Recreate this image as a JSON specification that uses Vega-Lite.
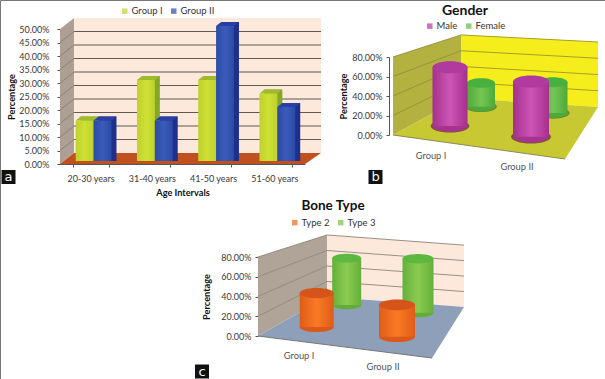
{"$schema":"https://vega.github.io/schema/vega-lite/v6.json","width":605,"height":379,"padding":0,"autosize":{"type":"none"},"background":"white","view":{"stroke":"#777","strokeWidth":1,"fill":"white"},"config":{"font":"Lato","axis":{"labelFont":"Lato","titleFont":"Lato","labelFontSize":9,"labelColor":"#3a3a3a","titleFontSize":9.2,"titleFontWeight":"bold","titleColor":"#111","tickColor":"#555","domainColor":"#555","grid":false,"zindex":1},"legend":{"labelFont":"Lato","labelFontSize":9.5,"labelColor":"#333","symbolType":"square","symbolSize":30,"symbolStrokeWidth":0,"padding":0,"labelOffset":2}},"datasets":{"age":[{"age":"20-30 years","series":"Group I","value":0.15},{"age":"31-40 years","series":"Group I","value":0.3},{"age":"41-50 years","series":"Group I","value":0.3},{"age":"51-60 years","series":"Group I","value":0.25},{"age":"20-30 years","series":"Group II","value":0.15},{"age":"31-40 years","series":"Group II","value":0.15},{"age":"41-50 years","series":"Group II","value":0.5},{"age":"51-60 years","series":"Group II","value":0.2}],"gender":[{"group":"Group I","series":"Male","value":0.66},{"group":"Group I","series":"Female","value":0.34},{"group":"Group II","series":"Male","value":0.6},{"group":"Group II","series":"Female","value":0.4}],"bone":[{"group":"Group I","series":"Type 2","value":0.35},{"group":"Group I","series":"Type 3","value":0.65},{"group":"Group II","series":"Type 2","value":0.35},{"group":"Group II","series":"Type 3","value":0.65}],"panels":[{"panel":"a"},{"panel":"b"},{"panel":"c"}]},"layer":[
{"encoding":{"y":{"field":"low","type":"quantitative","axis":null,"scale":{"domain":[0,0.5],"range":[164,29]}},"x":{"field":"u","type":"quantitative","axis":null,"scale":{"domain":[0,1],"range":[60,321]}}},"layer":[
{"data":{"values":[{"u":0,"low":0,"high":0.5},{"u":0.054,"low":0.0407,"high":0.5407}]},"mark":{"type":"area","fill":"#ad9f94","orient":"vertical"},"encoding":{"y2":{"field":"high"}}},
{"data":{"values":[{"u":0.054,"low":0.0407,"high":0.5407},{"u":1,"low":0.0407,"high":0.5407}]},"mark":{"type":"area","fill":"#fde9dc","orient":"vertical"},"encoding":{"y2":{"field":"high"}}},
{"data":{"values":[{"u":0,"low":0,"high":0},{"u":0.054,"low":0,"high":0.0407},{"u":0.939,"low":0,"high":0.0407},{"u":1,"low":0.0407,"high":0.0407}]},"mark":{"type":"area","fill":"#c0501f","orient":"vertical"},"encoding":{"y2":{"field":"high"}}},
{"data":{"values":[{"level":5,"u":0,"low":0.05},{"level":5,"u":0.054,"low":0.0907},{"level":10,"u":0,"low":0.1},{"level":10,"u":0.054,"low":0.1407},{"level":15,"u":0,"low":0.15},{"level":15,"u":0.054,"low":0.1907},{"level":20,"u":0,"low":0.2},{"level":20,"u":0.054,"low":0.2407},{"level":25,"u":0,"low":0.25},{"level":25,"u":0.054,"low":0.2907},{"level":30,"u":0,"low":0.3},{"level":30,"u":0.054,"low":0.3407},{"level":35,"u":0,"low":0.35},{"level":35,"u":0.054,"low":0.3907},{"level":40,"u":0,"low":0.4},{"level":40,"u":0.054,"low":0.4407},{"level":45,"u":0,"low":0.45},{"level":45,"u":0.054,"low":0.4907}]},"mark":{"type":"line","stroke":"#8d8278","strokeWidth":1},"encoding":{"detail":{"field":"level"}}},
{"data":{"values":[{"level":5,"u":0.054,"low":0.0907},{"level":5,"u":1,"low":0.0907},{"level":10,"u":0.054,"low":0.1407},{"level":10,"u":1,"low":0.1407},{"level":15,"u":0.054,"low":0.1907},{"level":15,"u":1,"low":0.1907},{"level":20,"u":0.054,"low":0.2407},{"level":20,"u":1,"low":0.2407},{"level":25,"u":0.054,"low":0.2907},{"level":25,"u":1,"low":0.2907},{"level":30,"u":0.054,"low":0.3407},{"level":30,"u":1,"low":0.3407},{"level":35,"u":0.054,"low":0.3907},{"level":35,"u":1,"low":0.3907},{"level":40,"u":0.054,"low":0.4407},{"level":40,"u":1,"low":0.4407},{"level":45,"u":0.054,"low":0.4907},{"level":45,"u":1,"low":0.4907}]},"mark":{"type":"line","stroke":"#5d5852","strokeWidth":1},"encoding":{"detail":{"field":"level"}}}]},
{"data":{"name":"age"},"transform":[{"filter":"datum.series==='Group I'"}],"encoding":{"x":{"field":"age","type":"nominal","axis":null,"scale":{"type":"band","domain":["20-30 years","31-40 years","41-50 years","51-60 years"],"range":[54.03,299.03],"paddingInner":0.708,"paddingOuter":0.354}},"y":{"field":"value","type":"quantitative","axis":null,"stack":null,"scale":{"domain":[0,0.5],"range":[161,26]}}},"layer":[
{"mark":{"type":"bar","fill":"#84a62b","xOffset":5,"yOffset":-4}},
{"mark":{"type":"point","shape":"M-1,0L1,0L1.56,-0.45L-0.44,-0.45Z","size":320,"filled":true,"fill":"#84a62b","opacity":1,"strokeWidth":0},"encoding":{"y":{"datum":0,"type":"quantitative","axis":null}}},
{"mark":{"type":"point","shape":"M-1,0L1,0L1.56,-0.45L-0.44,-0.45Z","size":320,"filled":true,"fill":"#9dbb2c","opacity":1,"strokeWidth":0}},
{"mark":{"type":"bar","fill":{"gradient":"linear","x1":0,"x2":1,"y1":0,"y2":0,"stops":[{"offset":0,"color":"#bed22c"},{"offset":0.5,"color":"#cfe035"},{"offset":1,"color":"#bed22c"}]}}}]},
{"data":{"name":"age"},"transform":[{"filter":"datum.series==='Group II'"}],"encoding":{"x":{"field":"age","type":"nominal","axis":null,"scale":{"type":"band","domain":["20-30 years","31-40 years","41-50 years","51-60 years"],"range":[71.91,316.91],"paddingInner":0.708,"paddingOuter":0.354}},"y":{"field":"value","type":"quantitative","axis":null,"stack":null,"scale":{"domain":[0,0.5],"range":[161,26]}}},"layer":[
{"mark":{"type":"bar","fill":"#1e2f8c","xOffset":5,"yOffset":-4}},
{"mark":{"type":"point","shape":"M-1,0L1,0L1.56,-0.45L-0.44,-0.45Z","size":320,"filled":true,"fill":"#1e2f8c","opacity":1,"strokeWidth":0},"encoding":{"y":{"datum":0,"type":"quantitative","axis":null}}},
{"mark":{"type":"point","shape":"M-1,0L1,0L1.56,-0.45L-0.44,-0.45Z","size":320,"filled":true,"fill":"#2a3fa6","opacity":1,"strokeWidth":0}},
{"mark":{"type":"bar","fill":{"gradient":"linear","x1":0,"x2":1,"y1":0,"y2":0,"stops":[{"offset":0,"color":"#2b4aa6"},{"offset":0.5,"color":"#3a5cb8"},{"offset":1,"color":"#2b4aa6"}]}}}]},
{"data":{"name":"age"},"mark":{"type":"point","size":0,"filled":true},"encoding":{"x":{"field":"age","type":"nominal","title":"Age Intervals","scale":{"type":"band","domain":["20-30 years","31-40 years","41-50 years","51-60 years"],"range":[60,305],"paddingInner":0.416,"paddingOuter":0.208},"axis":{"orient":"bottom","offset":-215,"labelAngle":0,"tickBand":"extent","tickSize":3,"labelPadding":7,"titlePadding":5,"labelFontSize":9}},"y":{"field":"value","type":"quantitative","title":"Percentage","scale":{"domain":[0,0.5],"range":[164,29]},"axis":{"orient":"left","offset":-60,"values":[0,0.05,0.1,0.15,0.2,0.25,0.3,0.35,0.4,0.45,0.5],"format":".2%","tickSize":3,"labelPadding":8,"titlePadding":2}},"color":{"field":"series","type":"nominal","title":null,"scale":{"domain":["Group I","Group II"],"range":["#bed22c","#2b4aa6"]},"legend":{"orient":"none","legendX":120,"legendY":6,"direction":"horizontal","columns":2,"columnPadding":6}}}},

{"encoding":{"y":{"field":"low","type":"quantitative","axis":null,"scale":{"domain":[0,0.8],"range":[135,57]}},"x":{"field":"u","type":"quantitative","axis":null,"scale":{"domain":[0,1],"range":[393,598]}}},"layer":[
{"data":{"values":[{"u":0,"low":0,"high":0.8},{"u":0.332,"low":0.379,"high":1.026}]},"mark":{"type":"area","fill":"#b3b13f","orient":"vertical"},"encoding":{"y2":{"field":"high"}}},
{"data":{"values":[{"u":0.332,"low":0.379,"high":1.026},{"u":1,"low":0.287,"high":0.954}]},"mark":{"type":"area","fill":"#f6ee1c","orient":"vertical"},"encoding":{"y2":{"field":"high"}}},
{"data":{"values":[{"u":0,"low":0,"high":0},{"u":0.332,"low":-0.097,"high":0.379},{"u":0.839,"low":-0.246,"high":0.309},{"u":1,"low":0.287,"high":0.287}]},"mark":{"type":"area","fill":"#c8c832","orient":"vertical"},"encoding":{"y2":{"field":"high"}}},
{"data":{"values":[{"level":20,"u":0,"low":0.2},{"level":20,"u":0.332,"low":0.541},{"level":40,"u":0,"low":0.4},{"level":40,"u":0.332,"low":0.703},{"level":60,"u":0,"low":0.6},{"level":60,"u":0.332,"low":0.864},{"level":80,"u":0,"low":0.8},{"level":80,"u":0.332,"low":1.026}]},"mark":{"type":"line","stroke":"#96953a","strokeWidth":1},"encoding":{"detail":{"field":"level"}}},
{"data":{"values":[{"level":20,"u":0.332,"low":0.541},{"level":20,"u":1,"low":0.454},{"level":40,"u":0.332,"low":0.703},{"level":40,"u":1,"low":0.62},{"level":60,"u":0.332,"low":0.864},{"level":60,"u":1,"low":0.787},{"level":80,"u":0.332,"low":1.026},{"level":80,"u":1,"low":0.954}]},"mark":{"type":"line","stroke":"#a6a024","strokeWidth":1},"encoding":{"detail":{"field":"level"}}},
{"data":{"values":[{"u":0,"low":0},{"u":0.839,"low":-0.246}]},"mark":{"type":"line","stroke":"#8a8a55","strokeWidth":1}}]},

{"data":{"name":"gender"},"transform":[{"filter":"datum.group==='Group I'&&datum.series==='Female'"}],"encoding":{"x":{"field":"group","type":"nominal","axis":null,"scale":{"type":"point","domain":["Group I"],"range":[481,481]}},"y":{"field":"value","type":"quantitative","axis":null,"stack":null,"scale":{"domain":[0,1],"range":[106.7,36.7]}}},"layer":[
{"mark":{"type":"point","shape":"M-1,0A1,0.34 0 1,1 1,0A1,0.34 0 1,1 -1,0Z","size":1000,"filled":true,"fill":"#6a8a2a","opacity":1,"strokeWidth":0},"encoding":{"y":{"datum":0,"type":"quantitative","axis":null}}},
{"mark":{"type":"point","shape":"M-1,0A1,0.34 0 1,1 1,0A1,0.34 0 1,1 -1,0Z","size":784,"filled":true,"fill":"#4ea83a","opacity":1,"strokeWidth":0},"encoding":{"y":{"datum":0,"type":"quantitative","axis":null}}},
{"mark":{"type":"bar","width":28,"fill":{"gradient":"linear","x1":0,"x2":1,"y1":0,"y2":0,"stops":[{"offset":0,"color":"#52a83b"},{"offset":0.5,"color":"#74c653"},{"offset":1,"color":"#4ea83a"}]}}},
{"mark":{"type":"point","shape":"M-1,0A1,0.34 0 1,1 1,0A1,0.34 0 1,1 -1,0Z","size":784,"filled":true,"fill":"#48b03e","opacity":1,"strokeWidth":0}}]},
{"data":{"name":"gender"},"transform":[{"filter":"datum.group==='Group II'&&datum.series==='Female'"}],"encoding":{"x":{"field":"group","type":"nominal","axis":null,"scale":{"type":"point","domain":["Group II"],"range":[553,553]}},"y":{"field":"value","type":"quantitative","axis":null,"stack":null,"scale":{"domain":[0,1],"range":[113,36]}}},"layer":[
{"mark":{"type":"point","shape":"M-1,0A1,0.34 0 1,1 1,0A1,0.34 0 1,1 -1,0Z","size":1100,"filled":true,"fill":"#6a8a2a","opacity":1,"strokeWidth":0},"encoding":{"y":{"datum":0,"type":"quantitative","axis":null}}},
{"mark":{"type":"point","shape":"M-1,0A1,0.34 0 1,1 1,0A1,0.34 0 1,1 -1,0Z","size":841,"filled":true,"fill":"#4ea83a","opacity":1,"strokeWidth":0},"encoding":{"y":{"datum":0,"type":"quantitative","axis":null}}},
{"mark":{"type":"bar","width":29,"fill":{"gradient":"linear","x1":0,"x2":1,"y1":0,"y2":0,"stops":[{"offset":0,"color":"#52a83b"},{"offset":0.5,"color":"#74c653"},{"offset":1,"color":"#4ea83a"}]}}},
{"mark":{"type":"point","shape":"M-1,0A1,0.34 0 1,1 1,0A1,0.34 0 1,1 -1,0Z","size":841,"filled":true,"fill":"#48b03e","opacity":1,"strokeWidth":0}}]},
{"data":{"name":"gender"},"transform":[{"filter":"datum.group==='Group I'&&datum.series==='Male'"}],"encoding":{"x":{"field":"group","type":"nominal","axis":null,"scale":{"type":"point","domain":["Group I"],"range":[450,450]}},"y":{"field":"value","type":"quantitative","axis":null,"stack":null,"scale":{"domain":[0,1],"range":[126,37]}}},"layer":[
{"mark":{"type":"point","shape":"M-1,0A1,0.34 0 1,1 1,0A1,0.34 0 1,1 -1,0Z","size":1500,"filled":true,"fill":"#7a5a2a","opacity":1,"strokeWidth":0},"encoding":{"y":{"datum":0,"type":"quantitative","axis":null}}},
{"mark":{"type":"point","shape":"M-1,0A1,0.34 0 1,1 1,0A1,0.34 0 1,1 -1,0Z","size":1225,"filled":true,"fill":"#a8338f","opacity":1,"strokeWidth":0},"encoding":{"y":{"datum":0,"type":"quantitative","axis":null}}},
{"mark":{"type":"bar","width":35,"fill":{"gradient":"linear","x1":0,"x2":1,"y1":0,"y2":0,"stops":[{"offset":0,"color":"#a5318c"},{"offset":0.5,"color":"#cc55b6"},{"offset":1,"color":"#a5318c"}]}}},
{"mark":{"type":"point","shape":"M-1,0A1,0.34 0 1,1 1,0A1,0.34 0 1,1 -1,0Z","size":1225,"filled":true,"fill":"#b03a9d","opacity":1,"strokeWidth":0}}]},
{"data":{"name":"gender"},"transform":[{"filter":"datum.group==='Group II'&&datum.series==='Male'"}],"encoding":{"x":{"field":"group","type":"nominal","axis":null,"scale":{"type":"point","domain":["Group II"],"range":[531,531]}},"y":{"field":"value","type":"quantitative","axis":null,"stack":null,"scale":{"domain":[0,1],"range":[136.7,44.7]}}},"layer":[
{"mark":{"type":"point","shape":"M-1,0A1,0.34 0 1,1 1,0A1,0.34 0 1,1 -1,0Z","size":1600,"filled":true,"fill":"#7a5a2a","opacity":1,"strokeWidth":0},"encoding":{"y":{"datum":0,"type":"quantitative","axis":null}}},
{"mark":{"type":"point","shape":"M-1,0A1,0.34 0 1,1 1,0A1,0.34 0 1,1 -1,0Z","size":1296,"filled":true,"fill":"#a8338f","opacity":1,"strokeWidth":0},"encoding":{"y":{"datum":0,"type":"quantitative","axis":null}}},
{"mark":{"type":"bar","width":36,"fill":{"gradient":"linear","x1":0,"x2":1,"y1":0,"y2":0,"stops":[{"offset":0,"color":"#a5318c"},{"offset":0.5,"color":"#cc55b6"},{"offset":1,"color":"#a5318c"}]}}},
{"mark":{"type":"point","shape":"M-1,0A1,0.34 0 1,1 1,0A1,0.34 0 1,1 -1,0Z","size":1296,"filled":true,"fill":"#b03a9d","opacity":1,"strokeWidth":0}}]},
{"data":{"values":[{"group":"Group I"},{"group":"Group II"}]},"mark":{"type":"text","fontSize":9.3,"color":"#555","font":"Lato"},"encoding":{"text":{"field":"group"},"x":{"field":"group","type":"nominal","axis":null,"scale":{"type":"point","padding":0,"domain":["Group I","Group II"],"range":[431,517]}},"y":{"field":"group","type":"nominal","axis":null,"scale":{"type":"point","padding":0,"domain":["Group I","Group II"],"range":[156,167]}}}},
{"data":{"name":"gender"},"mark":{"type":"point","size":0,"filled":true},"encoding":{"y":{"field":"value","type":"quantitative","title":"Percentage","scale":{"domain":[0,0.8],"range":[135,57]},"axis":{"orient":"left","offset":-389,"values":[0,0.2,0.4,0.6,0.8],"format":".2%","tickSize":3,"labelPadding":4,"titlePadding":3}},"color":{"field":"series","type":"nominal","title":"Gender","scale":{"domain":["Male","Female"],"range":["#b83aa0","#66bb44"]},"legend":{"orient":"none","legendX":425,"legendY":4,"direction":"horizontal","columns":2,"columnPadding":6,"titleFontSize":14,"titleFont":"Lato","titleFontWeight":"bold","titleColor":"#111","titleAnchor":"middle","titlePadding":3}}}},

{"encoding":{"y":{"field":"low","type":"quantitative","axis":null,"scale":{"domain":[0,0.8],"range":[336,257]}},"x":{"field":"u","type":"quantitative","axis":null,"scale":{"domain":[0,1],"range":[258,464]}}},"layer":[
{"data":{"values":[{"u":0,"low":0,"high":0.8},{"u":0.335,"low":0.395,"high":1.023}]},"mark":{"type":"area","fill":"#b0a498","orient":"vertical"},"encoding":{"y2":{"field":"high"}}},
{"data":{"values":[{"u":0.335,"low":0.395,"high":1.023},{"u":1,"low":0.294,"high":0.92}]},"mark":{"type":"area","fill":"#fce9dc","orient":"vertical"},"encoding":{"y2":{"field":"high"}}},
{"data":{"values":[{"u":0,"low":0,"high":0},{"u":0.335,"low":-0.088,"high":0.395},{"u":0.845,"low":-0.223,"high":0.318},{"u":1,"low":0.294,"high":0.294}]},"mark":{"type":"area","fill":"#8d9fb9","orient":"vertical"},"encoding":{"y2":{"field":"high"}}},
{"data":{"values":[{"level":20,"u":0,"low":0.2},{"level":20,"u":0.335,"low":0.552},{"level":40,"u":0,"low":0.4},{"level":40,"u":0.335,"low":0.709},{"level":60,"u":0,"low":0.6},{"level":60,"u":0.335,"low":0.866},{"level":80,"u":0,"low":0.8},{"level":80,"u":0.335,"low":1.023}]},"mark":{"type":"line","stroke":"#978b80","strokeWidth":1},"encoding":{"detail":{"field":"level"}}},
{"data":{"values":[{"level":20,"u":0.335,"low":0.552},{"level":20,"u":1,"low":0.4505},{"level":40,"u":0.335,"low":0.709},{"level":40,"u":1,"low":0.607},{"level":60,"u":0.335,"low":0.866},{"level":60,"u":1,"low":0.7635},{"level":80,"u":0.335,"low":1.023},{"level":80,"u":1,"low":0.92}]},"mark":{"type":"line","stroke":"#9a8f86","strokeWidth":1},"encoding":{"detail":{"field":"level"}}},
{"data":{"values":[{"u":0,"low":0},{"u":0.845,"low":-0.223}]},"mark":{"type":"line","stroke":"#777","strokeWidth":1}}]},

{"data":{"name":"bone"},"transform":[{"filter":"datum.group==='Group I'&&datum.series==='Type 3'"}],"encoding":{"x":{"field":"group","type":"nominal","axis":null,"scale":{"type":"point","domain":["Group I"],"range":[346.7,346.7]}},"y":{"field":"value","type":"quantitative","axis":null,"stack":null,"scale":{"domain":[0,1],"range":[305,233]}}},"layer":[
{"mark":{"type":"point","shape":"M-1,0A1,0.3 0 1,1 1,0A1,0.3 0 1,1 -1,0Z","size":841,"filled":true,"fill":"#62ad3a","opacity":1,"strokeWidth":0},"encoding":{"y":{"datum":0,"type":"quantitative","axis":null}}},
{"mark":{"type":"bar","width":29,"fill":{"gradient":"linear","x1":0,"x2":1,"y1":0,"y2":0,"stops":[{"offset":0,"color":"#64b03c"},{"offset":0.5,"color":"#8ccb50"},{"offset":1,"color":"#64b03c"}]}}},
{"mark":{"type":"point","shape":"M-1,0A1,0.3 0 1,1 1,0A1,0.3 0 1,1 -1,0Z","size":841,"filled":true,"fill":"#5db83f","opacity":1,"strokeWidth":0}}]},
{"data":{"name":"bone"},"transform":[{"filter":"datum.group==='Group II'&&datum.series==='Type 3'"}],"encoding":{"x":{"field":"group","type":"nominal","axis":null,"scale":{"type":"point","domain":["Group II"],"range":[418,418]}},"y":{"field":"value","type":"quantitative","axis":null,"stack":null,"scale":{"domain":[0,1],"range":[312.7,229.7]}}},"layer":[
{"mark":{"type":"point","shape":"M-1,0A1,0.3 0 1,1 1,0A1,0.3 0 1,1 -1,0Z","size":961,"filled":true,"fill":"#62ad3a","opacity":1,"strokeWidth":0},"encoding":{"y":{"datum":0,"type":"quantitative","axis":null}}},
{"mark":{"type":"bar","width":31,"fill":{"gradient":"linear","x1":0,"x2":1,"y1":0,"y2":0,"stops":[{"offset":0,"color":"#64b03c"},{"offset":0.5,"color":"#8ccb50"},{"offset":1,"color":"#64b03c"}]}}},
{"mark":{"type":"point","shape":"M-1,0A1,0.3 0 1,1 1,0A1,0.3 0 1,1 -1,0Z","size":961,"filled":true,"fill":"#5db83f","opacity":1,"strokeWidth":0}}]},
{"data":{"name":"bone"},"transform":[{"filter":"datum.group==='Group I'&&datum.series==='Type 2'"}],"encoding":{"x":{"field":"group","type":"nominal","axis":null,"scale":{"type":"point","domain":["Group I"],"range":[316.7,316.7]}},"y":{"field":"value","type":"quantitative","axis":null,"stack":null,"scale":{"domain":[0,1],"range":[327,230]}}},"layer":[
{"mark":{"type":"point","shape":"M-1,0A1,0.3 0 1,1 1,0A1,0.3 0 1,1 -1,0Z","size":1156,"filled":true,"fill":"#d9581a","opacity":1,"strokeWidth":0},"encoding":{"y":{"datum":0,"type":"quantitative","axis":null}}},
{"mark":{"type":"bar","width":34,"fill":{"gradient":"linear","x1":0,"x2":1,"y1":0,"y2":0,"stops":[{"offset":0,"color":"#df5c18"},{"offset":0.5,"color":"#f97a24"},{"offset":1,"color":"#df5c18"}]}}},
{"mark":{"type":"point","shape":"M-1,0A1,0.3 0 1,1 1,0A1,0.3 0 1,1 -1,0Z","size":1156,"filled":true,"fill":"#d5541a","opacity":1,"strokeWidth":0}}]},
{"data":{"name":"bone"},"transform":[{"filter":"datum.group==='Group II'&&datum.series==='Type 2'"}],"encoding":{"x":{"field":"group","type":"nominal","axis":null,"scale":{"type":"point","domain":["Group II"],"range":[397,397]}},"y":{"field":"value","type":"quantitative","axis":null,"stack":null,"scale":{"domain":[0,1],"range":[336.7,245.7]}}},"layer":[
{"mark":{"type":"point","shape":"M-1,0A1,0.3 0 1,1 1,0A1,0.3 0 1,1 -1,0Z","size":1296,"filled":true,"fill":"#d9581a","opacity":1,"strokeWidth":0},"encoding":{"y":{"datum":0,"type":"quantitative","axis":null}}},
{"mark":{"type":"bar","width":36,"fill":{"gradient":"linear","x1":0,"x2":1,"y1":0,"y2":0,"stops":[{"offset":0,"color":"#df5c18"},{"offset":0.5,"color":"#f97a24"},{"offset":1,"color":"#df5c18"}]}}},
{"mark":{"type":"point","shape":"M-1,0A1,0.3 0 1,1 1,0A1,0.3 0 1,1 -1,0Z","size":1296,"filled":true,"fill":"#d5541a","opacity":1,"strokeWidth":0}}]},
{"data":{"values":[{"group":"Group I"},{"group":"Group II"}]},"mark":{"type":"text","fontSize":9.3,"color":"#555","font":"Lato"},"encoding":{"text":{"field":"group"},"x":{"field":"group","type":"nominal","axis":null,"scale":{"type":"point","padding":0,"domain":["Group I","Group II"],"range":[299,383]}},"y":{"field":"group","type":"nominal","axis":null,"scale":{"type":"point","padding":0,"domain":["Group I","Group II"],"range":[356,367]}}}},
{"data":{"name":"bone"},"mark":{"type":"point","size":0,"filled":true},"encoding":{"y":{"field":"value","type":"quantitative","title":"Percentage","scale":{"domain":[0,0.8],"range":[336,257]},"axis":{"orient":"left","offset":-258,"values":[0,0.2,0.4,0.6,0.8],"format":".2%","tickSize":3,"labelPadding":4,"titlePadding":9}},"color":{"field":"series","type":"nominal","title":"Bone Type","scale":{"domain":["Type 2","Type 3"],"range":["#ee6a1f","#7cc242"]},"legend":{"orient":"none","legendX":290,"legendY":199,"direction":"horizontal","columns":2,"columnPadding":6,"titleFontSize":13.5,"titleFont":"Lato","titleFontWeight":"bold","titleColor":"#111","titleAnchor":"middle","titlePadding":5}}}},

{"data":{"name":"panels"},"transform":[{"filter":"datum.panel==='a'"}],"encoding":{"x":{"field":"panel","type":"nominal","axis":null,"scale":{"type":"point","domain":["a"],"range":[8.5,8.5]}},"y":{"field":"panel","type":"nominal","axis":null,"scale":{"type":"point","domain":["a"],"range":[177,177]}}},"layer":[{"mark":{"type":"point","shape":"square","size":196,"filled":true,"fill":"#111","opacity":1,"strokeWidth":0}},{"mark":{"type":"text","color":"white","fontSize":13,"font":"DejaVu Sans"},"encoding":{"text":{"field":"panel"}}}]},
{"data":{"name":"panels"},"transform":[{"filter":"datum.panel==='b'"}],"encoding":{"x":{"field":"panel","type":"nominal","axis":null,"scale":{"type":"point","domain":["b"],"range":[375.5,375.5]}},"y":{"field":"panel","type":"nominal","axis":null,"scale":{"type":"point","domain":["b"],"range":[177,177]}}},"layer":[{"mark":{"type":"point","shape":"square","size":196,"filled":true,"fill":"#111","opacity":1,"strokeWidth":0}},{"mark":{"type":"text","color":"white","fontSize":13,"font":"DejaVu Sans"},"encoding":{"text":{"field":"panel"}}}]},
{"data":{"name":"panels"},"transform":[{"filter":"datum.panel==='c'"}],"encoding":{"x":{"field":"panel","type":"nominal","axis":null,"scale":{"type":"point","domain":["c"],"range":[202,202]}},"y":{"field":"panel","type":"nominal","axis":null,"scale":{"type":"point","domain":["c"],"range":[371.5,371.5]}}},"layer":[{"mark":{"type":"point","shape":"square","size":196,"filled":true,"fill":"#111","opacity":1,"strokeWidth":0}},{"mark":{"type":"text","color":"white","fontSize":13,"font":"DejaVu Sans"},"encoding":{"text":{"field":"panel"}}}]}
],"resolve":{"scale":{"x":"independent","y":"independent","color":"independent"},"axis":{"x":"independent","y":"independent"},"legend":{"color":"independent"}}}
